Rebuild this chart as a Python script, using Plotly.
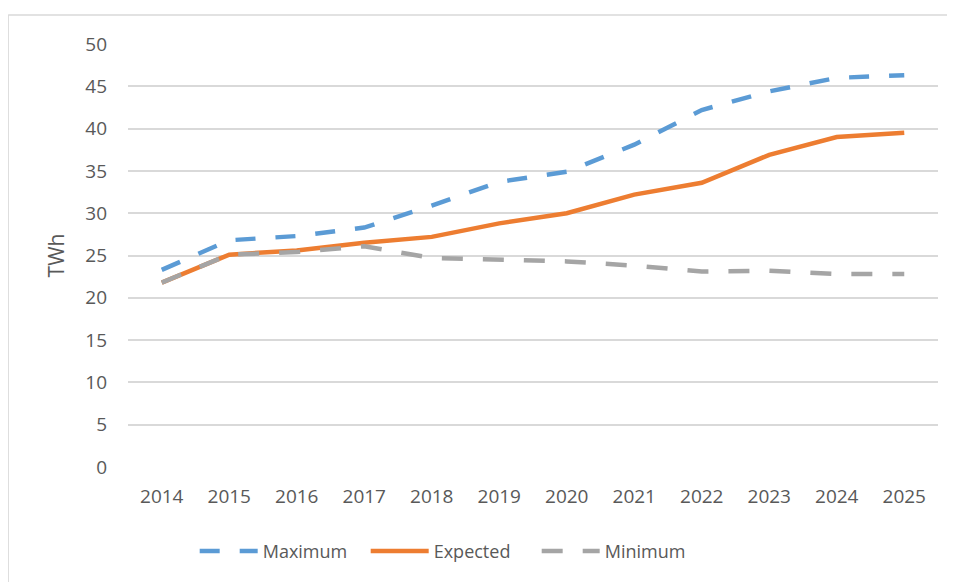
import plotly.graph_objects as go

years = ["2014", "2015", "2016", "2017", "2018", "2019", "2020", "2021", "2022", "2023", "2024", "2025"]
maximum = [23.3, 26.8, 27.3, 28.3, 30.9, 33.7, 34.9, 38.1, 42.2, 44.4, 46.0, 46.3]
expected = [21.8, 25.1, 25.6, 26.5, 27.2, 28.8, 30.0, 32.2, 33.6, 36.9, 39.0, 39.5]
minimum = [21.8, 25.1, 25.4, 26.1, 24.7, 24.55, 24.3, 23.8, 23.1, 23.2, 22.8, 22.8]
y_ticks = [0, 5, 10, 15, 20, 25, 30, 35, 40, 45, 50]

TEXT = "#595959"
GRID = "#D9D9D9"
FONT = "Open Sans"

fig = go.Figure()
fig.add_trace(go.Scatter(x=years, y=maximum, name="Maximum", mode="lines",
                         line=dict(color="#5B9BD5", width=4.5, dash="20px,20px")))
fig.add_trace(go.Scatter(x=years, y=expected, name="Expected", mode="lines",
                         line=dict(color="#ED7D31", width=4.5)))
fig.add_trace(go.Scatter(x=years, y=minimum, name="Minimum", mode="lines",
                         line=dict(color="#A5A5A5", width=4.5, dash="21px,20px")))

fig.update_layout(
    width=947, height=574,
    margin=dict(l=120, r=17, t=36, b=115),
    paper_bgcolor="white", plot_bgcolor="white",
    font=dict(family=FONT, color=TEXT, size=18),
    showlegend=True,
    legend=dict(orientation="h", x=0.399, xanchor="center", y=-0.199, yanchor="middle",
                font=dict(size=18, color=TEXT), itemwidth=58, entrywidth=98,
                tracegroupgap=0),
    xaxis=dict(type="category", range=[-0.5, 11.5], showgrid=False, showline=False,
               zeroline=False, ticks="", tickfont=dict(size=19, color=TEXT),
               ticklabelstandoff=16),
    yaxis=dict(range=[0, 50], tickvals=y_ticks, showgrid=True, gridcolor=GRID, gridwidth=1.5,
               zeroline=False, showline=False, ticks="",
               tickfont=dict(size=19, color=TEXT), ticklabelstandoff=20,
               title=dict(text="TWh", font=dict(size=21, color=TEXT), standoff=14)),
    shapes=[
        dict(type="line", xref="paper", yref="paper", x0=-0.148, x1=1.05, y0=1.0686, y1=1.0686,
             line=dict(color=GRID, width=1.5)),
        dict(type="line", xref="paper", yref="paper", x0=-0.148, x1=-0.148, y0=1.0686, y1=-0.4,
             line=dict(color=GRID, width=1.5)),
    ],
)

fig.write_html("out.html")
